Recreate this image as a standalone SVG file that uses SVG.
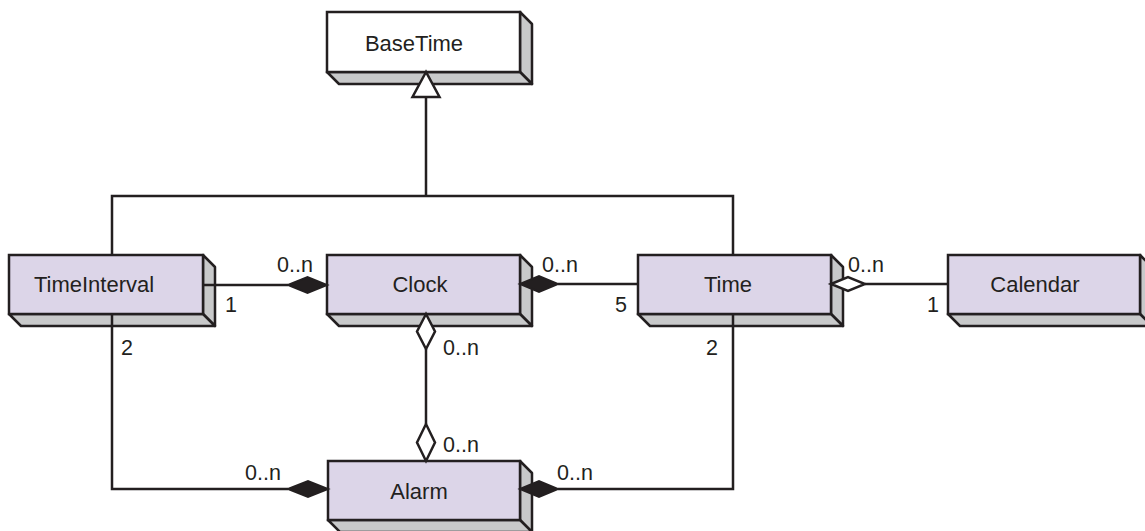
<svg xmlns="http://www.w3.org/2000/svg" width="1145" height="531" viewBox="0 0 1145 531">
<style>
.front{fill:#dcd5e8;stroke:#231f20;stroke-width:2.5}
.frontw{fill:#ffffff;stroke:#231f20;stroke-width:2.5}
.ext{fill:#c8c9ca;stroke:#231f20;stroke-width:2.5;stroke-linejoin:round}
.name{font-family:"Liberation Sans",Arial,sans-serif;font-size:22px;fill:#231f20;text-anchor:middle}
.lbl{font-family:"Liberation Sans",Arial,sans-serif;font-size:21.5px;fill:#231f20}
.ln{fill:none;stroke:#231f20;stroke-width:2.5}
.fd{fill:#231f20;stroke:#231f20;stroke-width:2;stroke-linejoin:miter}
.hd{fill:#ffffff;stroke:#231f20;stroke-width:2.5;stroke-linejoin:miter}
</style>
<rect width="1145" height="531" fill="#ffffff"/>
<g id="BaseTime">
<polygon class="ext" points="520,12 532,24 532,84 520,72"/>
<polygon class="ext" points="327,72 520,72 532,84 339,84"/>
<rect class="frontw" x="327" y="12" width="193" height="60"/>
<text class="name" x="414" y="51">BaseTime</text>
</g>
<g id="TimeInterval">
<polygon class="ext" points="203,255 215,267 215,326 203,314"/>
<polygon class="ext" points="9,314 203,314 215,326 21,326"/>
<rect class="front" x="9" y="255" width="194" height="59"/>
<text class="name" x="94" y="292">TimeInterval</text>
</g>
<g id="Clock">
<polygon class="ext" points="520,255 532,267 532,326 520,314"/>
<polygon class="ext" points="327,314 520,314 532,326 339,326"/>
<rect class="front" x="327" y="255" width="193" height="59"/>
<text class="name" x="420" y="292">Clock</text>
</g>
<g id="Time">
<polygon class="ext" points="831,255 843,267 843,326 831,314"/>
<polygon class="ext" points="638,314 831,314 843,326 650,326"/>
<rect class="front" x="638" y="255" width="193" height="59"/>
<text class="name" x="728" y="292">Time</text>
</g>
<g id="Calendar">
<polygon class="ext" points="1140,255 1152,267 1152,326 1140,314"/>
<polygon class="ext" points="948,314 1140,314 1152,326 960,326"/>
<rect class="front" x="948" y="255" width="192" height="59"/>
<text class="name" x="1035" y="292">Calendar</text>
</g>
<g id="Alarm">
<polygon class="ext" points="520,461 532,473 532,532 520,520"/>
<polygon class="ext" points="328,520 520,520 532,532 340,532"/>
<rect class="front" x="328" y="461" width="192" height="59"/>
<text class="name" x="419" y="499">Alarm</text>
</g>
<g id="connectors">
<path class="ln" d="M426,97 V196 M112,255 V196 H733 V255"/>
<polygon class="hd" points="426,72 412.5,97 439.5,97"/>
<path class="ln" d="M203,285 H288"/>
<polygon class="fd" points="288,285 307.5,277 327,285 307.5,293"/>
<path class="ln" d="M558,284 H638"/>
<polygon class="fd" points="520,284 539,276 558,284 539,292"/>
<path class="ln" d="M865,284 H948"/>
<polygon class="hd" points="831,284 848,277 865,284 848,291"/>
<path class="ln" d="M426,349 V424"/>
<polygon class="hd" points="426,314 417,331.5 426,349 435,331.5"/>
<polygon class="hd" points="426,424 417,442.5 426,461 435,442.5"/>
<path class="ln" d="M112,314 V489 H288"/>
<polygon class="fd" points="288,489 308,481 328,489 308,497"/>
<path class="ln" d="M733,314 V489 H558"/>
<polygon class="fd" points="520,489 539,481 558,489 539,497"/>
<text class="lbl" x="277" y="272">0..n</text>
<text class="lbl" x="225" y="312">1</text>
<text class="lbl" x="542" y="272">0..n</text>
<text class="lbl" x="615" y="312">5</text>
<text class="lbl" x="848" y="272">0..n</text>
<text class="lbl" x="927" y="312">1</text>
<text class="lbl" x="443" y="355">0..n</text>
<text class="lbl" x="443" y="452">0..n</text>
<text class="lbl" x="121" y="355">2</text>
<text class="lbl" x="706" y="355">2</text>
<text class="lbl" x="245" y="480">0..n</text>
<text class="lbl" x="557" y="480">0..n</text>
</g>
</svg>
